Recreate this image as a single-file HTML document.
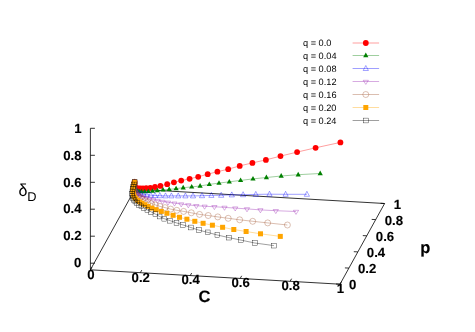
<!DOCTYPE html>
<html><head><meta charset="utf-8"><title>plot</title>
<style>html,body{margin:0;padding:0;background:#fff}svg{display:block;will-change:transform}text{font-family:"Liberation Sans",sans-serif;text-rendering:geometricPrecision}</style></head><body>
<svg width="475" height="332" viewBox="0 0 475 332">
<rect width="475" height="332" fill="#fff"/>
<g stroke="#000" stroke-width="0.8" fill="none" stroke-linecap="butt">
<path d="M90.4 269.8L340.0 284.2L384.6 203.5L135.0 189.1Z"/>
<path d="M90.4 269.8L90.4 128.3"/>
<path d="M90.4 263.2h4.5"/>
<path d="M90.4 236.2h4.5"/>
<path d="M90.4 209.2h4.5"/>
<path d="M90.4 182.3h4.5"/>
<path d="M90.4 155.3h4.5"/>
<path d="M90.4 128.3h4.5"/>
<path d="M90.4 269.8l1.5 -2.6"/>
<path d="M140.3 272.7l1.5 -2.6"/>
<path d="M190.2 275.6l1.5 -2.6"/>
<path d="M240.2 278.4l1.5 -2.6"/>
<path d="M290.1 281.3l1.5 -2.6"/>
<path d="M340.0 284.2l1.5 -2.6"/>
<path d="M340.0 284.2l-4.0 -0.2"/>
<path d="M348.9 268.1l-4.0 -0.2"/>
<path d="M357.8 251.9l-4.0 -0.2"/>
<path d="M366.8 235.8l-4.0 -0.2"/>
<path d="M375.7 219.6l-4.0 -0.2"/>
<path d="M384.6 203.5l-4.0 -0.2"/>
</g>
<path d="M134.6 182.2L134.5 184.6L134.9 186.8L135.8 188.0L137.0 188.4L138.5 188.5L140.5 188.5L143.0 188.4L146.2 188.2L150.3 187.8L155.0 187.0L160.4 185.9L167.2 184.2L173.9 182.3L181.2 180.6L189.6 178.8L198.2 176.8L207.7 174.2L217.4 171.7L228.2 169.2L239.7 165.9L252.4 162.9L265.9 159.9L280.5 156.1L297.1 152.1L315.6 147.8L340.4 142.4" fill="none" stroke="#ff0000" stroke-width="0.38"/>
<circle cx="134.6" cy="182.2" r="2.9" fill="#ff0000"/>
<circle cx="134.5" cy="184.6" r="2.9" fill="#ff0000"/>
<circle cx="134.9" cy="186.8" r="2.9" fill="#ff0000"/>
<circle cx="135.8" cy="188.0" r="2.9" fill="#ff0000"/>
<circle cx="137.0" cy="188.4" r="2.9" fill="#ff0000"/>
<circle cx="138.5" cy="188.5" r="2.9" fill="#ff0000"/>
<circle cx="140.5" cy="188.5" r="2.9" fill="#ff0000"/>
<circle cx="143.0" cy="188.4" r="2.9" fill="#ff0000"/>
<circle cx="146.2" cy="188.2" r="2.9" fill="#ff0000"/>
<circle cx="150.3" cy="187.8" r="2.9" fill="#ff0000"/>
<circle cx="155.0" cy="187.0" r="2.9" fill="#ff0000"/>
<circle cx="160.4" cy="185.9" r="2.9" fill="#ff0000"/>
<circle cx="167.2" cy="184.2" r="2.9" fill="#ff0000"/>
<circle cx="173.9" cy="182.3" r="2.9" fill="#ff0000"/>
<circle cx="181.2" cy="180.6" r="2.9" fill="#ff0000"/>
<circle cx="189.6" cy="178.8" r="2.9" fill="#ff0000"/>
<circle cx="198.2" cy="176.8" r="2.9" fill="#ff0000"/>
<circle cx="207.7" cy="174.2" r="2.9" fill="#ff0000"/>
<circle cx="217.4" cy="171.7" r="2.9" fill="#ff0000"/>
<circle cx="228.2" cy="169.2" r="2.9" fill="#ff0000"/>
<circle cx="239.7" cy="165.9" r="2.9" fill="#ff0000"/>
<circle cx="252.4" cy="162.9" r="2.9" fill="#ff0000"/>
<circle cx="265.9" cy="159.9" r="2.9" fill="#ff0000"/>
<circle cx="280.5" cy="156.1" r="2.9" fill="#ff0000"/>
<circle cx="297.1" cy="152.1" r="2.9" fill="#ff0000"/>
<circle cx="315.6" cy="147.8" r="2.9" fill="#ff0000"/>
<circle cx="340.4" cy="142.4" r="2.9" fill="#ff0000"/>
<path d="M134.6 182.2L134.6 184.0L134.6 186.0L135.0 188.5L135.8 190.2L137.2 191.0L139.0 191.4L141.5 191.6L144.7 191.6L148.3 191.4L152.5 191.1L157.4 190.6L163.0 189.9L169.2 189.4L176.1 188.6L183.2 187.7L191.7 186.9L200.1 186.0L209.3 184.4L219.0 183.1L229.3 181.8L240.6 180.4L253.0 178.9L266.4 177.5L281.2 176.0L298.2 174.7L320.2 173.5" fill="none" stroke="#008000" stroke-width="0.38"/>
<path d="M134.6 179.3L132.0 183.9L137.2 183.9Z" fill="#008000"/>
<path d="M134.6 181.1L132.0 185.7L137.2 185.7Z" fill="#008000"/>
<path d="M134.6 183.1L132.0 187.7L137.2 187.7Z" fill="#008000"/>
<path d="M135.0 185.6L132.4 190.2L137.6 190.2Z" fill="#008000"/>
<path d="M135.8 187.3L133.2 191.9L138.4 191.9Z" fill="#008000"/>
<path d="M137.2 188.1L134.6 192.7L139.8 192.7Z" fill="#008000"/>
<path d="M139.0 188.5L136.4 193.1L141.6 193.1Z" fill="#008000"/>
<path d="M141.5 188.7L138.9 193.3L144.1 193.3Z" fill="#008000"/>
<path d="M144.7 188.7L142.1 193.3L147.3 193.3Z" fill="#008000"/>
<path d="M148.3 188.5L145.7 193.1L150.9 193.1Z" fill="#008000"/>
<path d="M152.5 188.2L149.9 192.8L155.1 192.8Z" fill="#008000"/>
<path d="M157.4 187.7L154.8 192.3L160.0 192.3Z" fill="#008000"/>
<path d="M163.0 187.0L160.4 191.6L165.6 191.6Z" fill="#008000"/>
<path d="M169.2 186.5L166.6 191.1L171.8 191.1Z" fill="#008000"/>
<path d="M176.1 185.7L173.5 190.3L178.7 190.3Z" fill="#008000"/>
<path d="M183.2 184.8L180.6 189.4L185.8 189.4Z" fill="#008000"/>
<path d="M191.7 184.0L189.1 188.6L194.3 188.6Z" fill="#008000"/>
<path d="M200.1 183.1L197.5 187.7L202.7 187.7Z" fill="#008000"/>
<path d="M209.3 181.5L206.7 186.1L211.9 186.1Z" fill="#008000"/>
<path d="M219.0 180.2L216.4 184.8L221.6 184.8Z" fill="#008000"/>
<path d="M229.3 178.9L226.7 183.5L231.9 183.5Z" fill="#008000"/>
<path d="M240.6 177.5L238.0 182.1L243.2 182.1Z" fill="#008000"/>
<path d="M253.0 176.0L250.4 180.6L255.6 180.6Z" fill="#008000"/>
<path d="M266.4 174.6L263.8 179.2L269.0 179.2Z" fill="#008000"/>
<path d="M281.2 173.1L278.6 177.7L283.8 177.7Z" fill="#008000"/>
<path d="M298.2 171.8L295.6 176.4L300.8 176.4Z" fill="#008000"/>
<path d="M320.2 170.6L317.6 175.2L322.8 175.2Z" fill="#008000"/>
<path d="M134.6 182.2L134.4 184.5L134.3 187.0L134.6 189.0L135.4 190.8L136.7 192.2L138.5 193.2L140.8 193.9L143.6 194.4L146.9 194.8L150.8 195.2L155.0 195.5L159.9 195.7L165.5 195.9L171.4 195.9L178.2 195.9L185.4 195.9L193.0 195.9L202.0 195.7L211.4 195.4L221.2 195.3L231.8 194.9L243.1 194.7L255.8 194.4L269.5 194.2L285.6 194.3L306.9 194.3" fill="none" stroke="#0000ff" stroke-width="0.38"/>
<path d="M134.6 179.2L132.0 184.2L137.2 184.2Z" fill="none" stroke="#0000ff" stroke-width="0.36"/>
<path d="M134.4 181.5L131.8 186.5L137.0 186.5Z" fill="none" stroke="#0000ff" stroke-width="0.36"/>
<path d="M134.3 184.0L131.7 189.0L136.9 189.0Z" fill="none" stroke="#0000ff" stroke-width="0.36"/>
<path d="M134.6 186.0L132.0 191.0L137.2 191.0Z" fill="none" stroke="#0000ff" stroke-width="0.36"/>
<path d="M135.4 187.8L132.8 192.8L138.0 192.8Z" fill="none" stroke="#0000ff" stroke-width="0.36"/>
<path d="M136.7 189.2L134.1 194.2L139.3 194.2Z" fill="none" stroke="#0000ff" stroke-width="0.36"/>
<path d="M138.5 190.2L135.9 195.2L141.1 195.2Z" fill="none" stroke="#0000ff" stroke-width="0.36"/>
<path d="M140.8 190.9L138.2 195.9L143.4 195.9Z" fill="none" stroke="#0000ff" stroke-width="0.36"/>
<path d="M143.6 191.4L141.0 196.4L146.2 196.4Z" fill="none" stroke="#0000ff" stroke-width="0.36"/>
<path d="M146.9 191.8L144.3 196.8L149.5 196.8Z" fill="none" stroke="#0000ff" stroke-width="0.36"/>
<path d="M150.8 192.2L148.2 197.2L153.4 197.2Z" fill="none" stroke="#0000ff" stroke-width="0.36"/>
<path d="M155.0 192.5L152.4 197.5L157.6 197.5Z" fill="none" stroke="#0000ff" stroke-width="0.36"/>
<path d="M159.9 192.7L157.3 197.7L162.5 197.7Z" fill="none" stroke="#0000ff" stroke-width="0.36"/>
<path d="M165.5 192.9L162.9 197.9L168.1 197.9Z" fill="none" stroke="#0000ff" stroke-width="0.36"/>
<path d="M171.4 192.9L168.8 197.9L174.0 197.9Z" fill="none" stroke="#0000ff" stroke-width="0.36"/>
<path d="M178.2 192.9L175.6 197.9L180.8 197.9Z" fill="none" stroke="#0000ff" stroke-width="0.36"/>
<path d="M185.4 192.9L182.8 197.9L188.0 197.9Z" fill="none" stroke="#0000ff" stroke-width="0.36"/>
<path d="M193.0 192.9L190.4 197.9L195.6 197.9Z" fill="none" stroke="#0000ff" stroke-width="0.36"/>
<path d="M202.0 192.7L199.4 197.7L204.6 197.7Z" fill="none" stroke="#0000ff" stroke-width="0.36"/>
<path d="M211.4 192.4L208.8 197.4L214.0 197.4Z" fill="none" stroke="#0000ff" stroke-width="0.36"/>
<path d="M221.2 192.3L218.6 197.3L223.8 197.3Z" fill="none" stroke="#0000ff" stroke-width="0.36"/>
<path d="M231.8 191.9L229.2 196.9L234.4 196.9Z" fill="none" stroke="#0000ff" stroke-width="0.36"/>
<path d="M243.1 191.7L240.5 196.7L245.7 196.7Z" fill="none" stroke="#0000ff" stroke-width="0.36"/>
<path d="M255.8 191.4L253.2 196.4L258.4 196.4Z" fill="none" stroke="#0000ff" stroke-width="0.36"/>
<path d="M269.5 191.2L266.9 196.2L272.1 196.2Z" fill="none" stroke="#0000ff" stroke-width="0.36"/>
<path d="M285.6 191.3L283.0 196.3L288.2 196.3Z" fill="none" stroke="#0000ff" stroke-width="0.36"/>
<path d="M306.9 191.3L304.3 196.3L309.5 196.3Z" fill="none" stroke="#0000ff" stroke-width="0.36"/>
<path d="M134.6 182.2L134.3 184.2L134.0 186.2L133.9 188.2L134.3 190.2L135.2 192.0L136.5 193.6L138.4 194.9L140.6 196.0L143.2 197.0L146.1 197.9L149.5 198.8L153.2 199.6L157.6 200.6L162.5 201.5L168.0 202.3L174.5 203.2L181.2 204.0L188.3 204.9L196.3 205.7L204.6 206.3L214.4 206.7L224.5 207.4L235.2 208.1L247.0 208.9L260.4 209.9L275.8 210.7L296.0 211.5" fill="none" stroke="#9620b0" stroke-width="0.38"/>
<path d="M134.6 185.1L132.0 181.0L137.2 181.0Z" fill="none" stroke="#9620b0" stroke-width="0.36"/>
<path d="M134.3 187.1L131.7 183.0L136.9 183.0Z" fill="none" stroke="#9620b0" stroke-width="0.36"/>
<path d="M134.0 189.1L131.4 185.0L136.6 185.0Z" fill="none" stroke="#9620b0" stroke-width="0.36"/>
<path d="M133.9 191.1L131.3 187.0L136.5 187.0Z" fill="none" stroke="#9620b0" stroke-width="0.36"/>
<path d="M134.3 193.1L131.7 189.0L136.9 189.0Z" fill="none" stroke="#9620b0" stroke-width="0.36"/>
<path d="M135.2 194.9L132.6 190.8L137.8 190.8Z" fill="none" stroke="#9620b0" stroke-width="0.36"/>
<path d="M136.5 196.5L133.9 192.4L139.1 192.4Z" fill="none" stroke="#9620b0" stroke-width="0.36"/>
<path d="M138.4 197.8L135.8 193.7L141.0 193.7Z" fill="none" stroke="#9620b0" stroke-width="0.36"/>
<path d="M140.6 198.9L138.0 194.8L143.2 194.8Z" fill="none" stroke="#9620b0" stroke-width="0.36"/>
<path d="M143.2 199.9L140.6 195.8L145.8 195.8Z" fill="none" stroke="#9620b0" stroke-width="0.36"/>
<path d="M146.1 200.8L143.5 196.7L148.7 196.7Z" fill="none" stroke="#9620b0" stroke-width="0.36"/>
<path d="M149.5 201.7L146.9 197.6L152.1 197.6Z" fill="none" stroke="#9620b0" stroke-width="0.36"/>
<path d="M153.2 202.5L150.6 198.4L155.8 198.4Z" fill="none" stroke="#9620b0" stroke-width="0.36"/>
<path d="M157.6 203.5L155.0 199.4L160.2 199.4Z" fill="none" stroke="#9620b0" stroke-width="0.36"/>
<path d="M162.5 204.4L159.9 200.3L165.1 200.3Z" fill="none" stroke="#9620b0" stroke-width="0.36"/>
<path d="M168.0 205.2L165.4 201.1L170.6 201.1Z" fill="none" stroke="#9620b0" stroke-width="0.36"/>
<path d="M174.5 206.1L171.9 202.0L177.1 202.0Z" fill="none" stroke="#9620b0" stroke-width="0.36"/>
<path d="M181.2 206.9L178.6 202.8L183.8 202.8Z" fill="none" stroke="#9620b0" stroke-width="0.36"/>
<path d="M188.3 207.8L185.7 203.7L190.9 203.7Z" fill="none" stroke="#9620b0" stroke-width="0.36"/>
<path d="M196.3 208.6L193.7 204.5L198.9 204.5Z" fill="none" stroke="#9620b0" stroke-width="0.36"/>
<path d="M204.6 209.2L202.0 205.1L207.2 205.1Z" fill="none" stroke="#9620b0" stroke-width="0.36"/>
<path d="M214.4 209.6L211.8 205.5L217.0 205.5Z" fill="none" stroke="#9620b0" stroke-width="0.36"/>
<path d="M224.5 210.3L221.9 206.2L227.1 206.2Z" fill="none" stroke="#9620b0" stroke-width="0.36"/>
<path d="M235.2 211.0L232.6 206.9L237.8 206.9Z" fill="none" stroke="#9620b0" stroke-width="0.36"/>
<path d="M247.0 211.8L244.4 207.7L249.6 207.7Z" fill="none" stroke="#9620b0" stroke-width="0.36"/>
<path d="M260.4 212.8L257.8 208.7L263.0 208.7Z" fill="none" stroke="#9620b0" stroke-width="0.36"/>
<path d="M275.8 213.6L273.2 209.5L278.4 209.5Z" fill="none" stroke="#9620b0" stroke-width="0.36"/>
<path d="M296.0 214.4L293.4 210.3L298.6 210.3Z" fill="none" stroke="#9620b0" stroke-width="0.36"/>
<path d="M134.6 182.2L134.1 184.5L133.8 186.7L133.8 188.7L134.2 190.7L135.0 192.6L136.3 194.4L138.0 196.1L140.0 197.7L142.3 199.2L145.0 200.7L148.0 202.1L151.5 203.5L155.4 204.9L159.9 206.4L165.0 207.6L170.6 209.1L176.8 210.3L183.6 211.4L191.3 212.8L199.5 214.4L208.2 215.5L217.8 216.9L228.2 218.3L239.7 219.8L252.7 221.3L267.7 222.9L287.4 225.0" fill="none" stroke="#a0522d" stroke-width="0.38"/>
<circle cx="134.6" cy="182.2" r="3.0" fill="none" stroke="#a0522d" stroke-width="0.36"/>
<circle cx="134.1" cy="184.5" r="3.0" fill="none" stroke="#a0522d" stroke-width="0.36"/>
<circle cx="133.8" cy="186.7" r="3.0" fill="none" stroke="#a0522d" stroke-width="0.36"/>
<circle cx="133.8" cy="188.7" r="3.0" fill="none" stroke="#a0522d" stroke-width="0.36"/>
<circle cx="134.2" cy="190.7" r="3.0" fill="none" stroke="#a0522d" stroke-width="0.36"/>
<circle cx="135.0" cy="192.6" r="3.0" fill="none" stroke="#a0522d" stroke-width="0.36"/>
<circle cx="136.3" cy="194.4" r="3.0" fill="none" stroke="#a0522d" stroke-width="0.36"/>
<circle cx="138.0" cy="196.1" r="3.0" fill="none" stroke="#a0522d" stroke-width="0.36"/>
<circle cx="140.0" cy="197.7" r="3.0" fill="none" stroke="#a0522d" stroke-width="0.36"/>
<circle cx="142.3" cy="199.2" r="3.0" fill="none" stroke="#a0522d" stroke-width="0.36"/>
<circle cx="145.0" cy="200.7" r="3.0" fill="none" stroke="#a0522d" stroke-width="0.36"/>
<circle cx="148.0" cy="202.1" r="3.0" fill="none" stroke="#a0522d" stroke-width="0.36"/>
<circle cx="151.5" cy="203.5" r="3.0" fill="none" stroke="#a0522d" stroke-width="0.36"/>
<circle cx="155.4" cy="204.9" r="3.0" fill="none" stroke="#a0522d" stroke-width="0.36"/>
<circle cx="159.9" cy="206.4" r="3.0" fill="none" stroke="#a0522d" stroke-width="0.36"/>
<circle cx="165.0" cy="207.6" r="3.0" fill="none" stroke="#a0522d" stroke-width="0.36"/>
<circle cx="170.6" cy="209.1" r="3.0" fill="none" stroke="#a0522d" stroke-width="0.36"/>
<circle cx="176.8" cy="210.3" r="3.0" fill="none" stroke="#a0522d" stroke-width="0.36"/>
<circle cx="183.6" cy="211.4" r="3.0" fill="none" stroke="#a0522d" stroke-width="0.36"/>
<circle cx="191.3" cy="212.8" r="3.0" fill="none" stroke="#a0522d" stroke-width="0.36"/>
<circle cx="199.5" cy="214.4" r="3.0" fill="none" stroke="#a0522d" stroke-width="0.36"/>
<circle cx="208.2" cy="215.5" r="3.0" fill="none" stroke="#a0522d" stroke-width="0.36"/>
<circle cx="217.8" cy="216.9" r="3.0" fill="none" stroke="#a0522d" stroke-width="0.36"/>
<circle cx="228.2" cy="218.3" r="3.0" fill="none" stroke="#a0522d" stroke-width="0.36"/>
<circle cx="239.7" cy="219.8" r="3.0" fill="none" stroke="#a0522d" stroke-width="0.36"/>
<circle cx="252.7" cy="221.3" r="3.0" fill="none" stroke="#a0522d" stroke-width="0.36"/>
<circle cx="267.7" cy="222.9" r="3.0" fill="none" stroke="#a0522d" stroke-width="0.36"/>
<circle cx="287.4" cy="225.0" r="3.0" fill="none" stroke="#a0522d" stroke-width="0.36"/>
<path d="M134.6 182.2L133.9 184.5L133.4 186.8L133.0 189.0L132.9 191.2L133.1 193.2L133.6 195.2L134.5 197.1L135.9 198.8L137.7 200.5L139.7 201.8L141.9 203.2L144.9 204.7L148.1 206.4L152.0 208.1L156.2 209.7L161.3 211.4L166.9 213.3L173.1 215.3L179.5 217.3L186.9 219.2L194.8 221.3L203.1 223.3L212.4 225.2L222.6 227.3L233.8 229.5L246.1 231.5L260.5 233.8L280.3 236.4" fill="none" stroke="#ffa500" stroke-width="0.38"/>
<rect x="132.1" y="179.7" width="5" height="5" fill="#ffa500"/>
<rect x="131.4" y="182.0" width="5" height="5" fill="#ffa500"/>
<rect x="130.9" y="184.3" width="5" height="5" fill="#ffa500"/>
<rect x="130.5" y="186.5" width="5" height="5" fill="#ffa500"/>
<rect x="130.4" y="188.7" width="5" height="5" fill="#ffa500"/>
<rect x="130.6" y="190.7" width="5" height="5" fill="#ffa500"/>
<rect x="131.1" y="192.7" width="5" height="5" fill="#ffa500"/>
<rect x="132.0" y="194.6" width="5" height="5" fill="#ffa500"/>
<rect x="133.4" y="196.3" width="5" height="5" fill="#ffa500"/>
<rect x="135.2" y="198.0" width="5" height="5" fill="#ffa500"/>
<rect x="137.2" y="199.3" width="5" height="5" fill="#ffa500"/>
<rect x="139.4" y="200.7" width="5" height="5" fill="#ffa500"/>
<rect x="142.4" y="202.2" width="5" height="5" fill="#ffa500"/>
<rect x="145.6" y="203.9" width="5" height="5" fill="#ffa500"/>
<rect x="149.5" y="205.6" width="5" height="5" fill="#ffa500"/>
<rect x="153.7" y="207.2" width="5" height="5" fill="#ffa500"/>
<rect x="158.8" y="208.9" width="5" height="5" fill="#ffa500"/>
<rect x="164.4" y="210.8" width="5" height="5" fill="#ffa500"/>
<rect x="170.6" y="212.8" width="5" height="5" fill="#ffa500"/>
<rect x="177.0" y="214.8" width="5" height="5" fill="#ffa500"/>
<rect x="184.4" y="216.7" width="5" height="5" fill="#ffa500"/>
<rect x="192.3" y="218.8" width="5" height="5" fill="#ffa500"/>
<rect x="200.6" y="220.8" width="5" height="5" fill="#ffa500"/>
<rect x="209.9" y="222.7" width="5" height="5" fill="#ffa500"/>
<rect x="220.1" y="224.8" width="5" height="5" fill="#ffa500"/>
<rect x="231.3" y="227.0" width="5" height="5" fill="#ffa500"/>
<rect x="243.6" y="229.0" width="5" height="5" fill="#ffa500"/>
<rect x="258.0" y="231.3" width="5" height="5" fill="#ffa500"/>
<rect x="277.8" y="233.9" width="5" height="5" fill="#ffa500"/>
<path d="M134.6 182.2L133.9 184.5L133.3 186.9L132.8 189.2L132.4 191.4L132.2 193.6L132.4 195.8L133.0 197.8L134.0 199.7L135.4 201.5L137.2 203.2L139.0 204.9L141.4 206.4L144.1 208.1L147.4 209.9L151.2 211.9L155.4 214.1L159.6 216.5L164.3 218.7L170.2 220.7L176.5 222.9L182.9 224.9L190.8 227.5L198.8 230.1L207.7 232.4L217.4 235.0L228.8 237.6L240.9 240.1L254.8 243.0L273.9 245.6" fill="none" stroke="#000000" stroke-width="0.38"/>
<rect x="132.2" y="179.8" width="4.8" height="4.8" fill="none" stroke="#000000" stroke-width="0.36"/>
<rect x="131.5" y="182.1" width="4.8" height="4.8" fill="none" stroke="#000000" stroke-width="0.36"/>
<rect x="130.9" y="184.5" width="4.8" height="4.8" fill="none" stroke="#000000" stroke-width="0.36"/>
<rect x="130.4" y="186.8" width="4.8" height="4.8" fill="none" stroke="#000000" stroke-width="0.36"/>
<rect x="130.0" y="189.0" width="4.8" height="4.8" fill="none" stroke="#000000" stroke-width="0.36"/>
<rect x="129.8" y="191.2" width="4.8" height="4.8" fill="none" stroke="#000000" stroke-width="0.36"/>
<rect x="130.0" y="193.4" width="4.8" height="4.8" fill="none" stroke="#000000" stroke-width="0.36"/>
<rect x="130.6" y="195.4" width="4.8" height="4.8" fill="none" stroke="#000000" stroke-width="0.36"/>
<rect x="131.6" y="197.3" width="4.8" height="4.8" fill="none" stroke="#000000" stroke-width="0.36"/>
<rect x="133.0" y="199.1" width="4.8" height="4.8" fill="none" stroke="#000000" stroke-width="0.36"/>
<rect x="134.8" y="200.8" width="4.8" height="4.8" fill="none" stroke="#000000" stroke-width="0.36"/>
<rect x="136.6" y="202.5" width="4.8" height="4.8" fill="none" stroke="#000000" stroke-width="0.36"/>
<rect x="139.0" y="204.0" width="4.8" height="4.8" fill="none" stroke="#000000" stroke-width="0.36"/>
<rect x="141.7" y="205.7" width="4.8" height="4.8" fill="none" stroke="#000000" stroke-width="0.36"/>
<rect x="145.0" y="207.5" width="4.8" height="4.8" fill="none" stroke="#000000" stroke-width="0.36"/>
<rect x="148.8" y="209.5" width="4.8" height="4.8" fill="none" stroke="#000000" stroke-width="0.36"/>
<rect x="153.0" y="211.7" width="4.8" height="4.8" fill="none" stroke="#000000" stroke-width="0.36"/>
<rect x="157.2" y="214.1" width="4.8" height="4.8" fill="none" stroke="#000000" stroke-width="0.36"/>
<rect x="161.9" y="216.3" width="4.8" height="4.8" fill="none" stroke="#000000" stroke-width="0.36"/>
<rect x="167.8" y="218.3" width="4.8" height="4.8" fill="none" stroke="#000000" stroke-width="0.36"/>
<rect x="174.1" y="220.5" width="4.8" height="4.8" fill="none" stroke="#000000" stroke-width="0.36"/>
<rect x="180.5" y="222.5" width="4.8" height="4.8" fill="none" stroke="#000000" stroke-width="0.36"/>
<rect x="188.4" y="225.1" width="4.8" height="4.8" fill="none" stroke="#000000" stroke-width="0.36"/>
<rect x="196.4" y="227.7" width="4.8" height="4.8" fill="none" stroke="#000000" stroke-width="0.36"/>
<rect x="205.3" y="230.0" width="4.8" height="4.8" fill="none" stroke="#000000" stroke-width="0.36"/>
<rect x="215.0" y="232.6" width="4.8" height="4.8" fill="none" stroke="#000000" stroke-width="0.36"/>
<rect x="226.4" y="235.2" width="4.8" height="4.8" fill="none" stroke="#000000" stroke-width="0.36"/>
<rect x="238.5" y="237.7" width="4.8" height="4.8" fill="none" stroke="#000000" stroke-width="0.36"/>
<rect x="252.4" y="240.6" width="4.8" height="4.8" fill="none" stroke="#000000" stroke-width="0.36"/>
<rect x="271.5" y="243.2" width="4.8" height="4.8" fill="none" stroke="#000000" stroke-width="0.36"/>
<path d="M352.6 43.0H379.1" stroke="#ff0000" stroke-width="0.38" fill="none"/>
<circle cx="365.8" cy="43.0" r="2.9" fill="#ff0000"/>
<path d="M352.6 55.5H379.1" stroke="#008000" stroke-width="0.38" fill="none"/>
<path d="M365.8 52.6L363.2 57.2L368.4 57.2Z" fill="#008000"/>
<path d="M352.6 68.5H379.1" stroke="#0000ff" stroke-width="0.38" fill="none"/>
<path d="M365.8 65.5L363.2 70.5L368.4 70.5Z" fill="none" stroke="#0000ff" stroke-width="0.36"/>
<path d="M352.6 81.5H379.1" stroke="#9620b0" stroke-width="0.38" fill="none"/>
<path d="M365.8 84.4L363.2 80.3L368.4 80.3Z" fill="none" stroke="#9620b0" stroke-width="0.36"/>
<path d="M352.6 94.5H379.1" stroke="#a0522d" stroke-width="0.38" fill="none"/>
<circle cx="365.8" cy="94.5" r="3.0" fill="none" stroke="#a0522d" stroke-width="0.36"/>
<path d="M352.6 107.5H379.1" stroke="#ffa500" stroke-width="0.38" fill="none"/>
<rect x="363.3" y="105.0" width="5" height="5" fill="#ffa500"/>
<path d="M352.6 120.5H379.1" stroke="#000000" stroke-width="0.38" fill="none"/>
<rect x="363.4" y="118.1" width="4.8" height="4.8" fill="none" stroke="#000000" stroke-width="0.36"/>
<g transform="rotate(0.02 237 166)">
<g font-size="13.2" font-weight="bold" fill="#000" stroke="#000" stroke-width="0.12">
<text x="81.5" y="267.5" text-anchor="end">0</text>
<text x="81.5" y="240.5" text-anchor="end">0.2</text>
<text x="81.5" y="213.5" text-anchor="end">0.4</text>
<text x="81.5" y="186.6" text-anchor="end">0.6</text>
<text x="81.5" y="159.6" text-anchor="end">0.8</text>
<text x="81.5" y="132.6" text-anchor="end">1</text>
<text x="90.9" y="278.8" text-anchor="middle">0</text>
<text x="140.8" y="281.6" text-anchor="middle">0.2</text>
<text x="190.7" y="284.5" text-anchor="middle">0.4</text>
<text x="240.7" y="287.4" text-anchor="middle">0.6</text>
<text x="290.6" y="290.3" text-anchor="middle">0.8</text>
<text x="340.5" y="293.1" text-anchor="middle">1</text>
<text x="349.1" y="289.3" text-anchor="start">0</text>
<text x="358.0" y="273.2" text-anchor="start">0.2</text>
<text x="366.9" y="257.1" text-anchor="start">0.4</text>
<text x="375.9" y="240.9" text-anchor="start">0.6</text>
<text x="384.8" y="224.8" text-anchor="start">0.8</text>
<text x="393.7" y="208.7" text-anchor="start">1</text>
</g>
<text x="204.6" y="302.4" font-size="16.5" font-weight="bold" stroke="#000" stroke-width="0.15" text-anchor="middle">C</text>
<text x="425.4" y="253.2" font-size="16.5" font-weight="bold" stroke="#000" stroke-width="0.15" text-anchor="middle">p</text>
<text x="18.6" y="196" font-size="16" transform="translate(0 196) scale(1 1.08) translate(0 -196)">δ</text>
<text x="27.2" y="201.2" font-size="12.8">D</text>
<text x="303" y="46.3" font-size="9.2">q = 0.0</text>
<text x="303" y="58.8" font-size="9.2">q = 0.04</text>
<text x="303" y="71.8" font-size="9.2">q = 0.08</text>
<text x="303" y="84.8" font-size="9.2">q = 0.12</text>
<text x="303" y="97.8" font-size="9.2">q = 0.16</text>
<text x="303" y="110.8" font-size="9.2">q = 0.20</text>
<text x="303" y="123.8" font-size="9.2">q = 0.24</text>
</g>
</svg></body></html>
